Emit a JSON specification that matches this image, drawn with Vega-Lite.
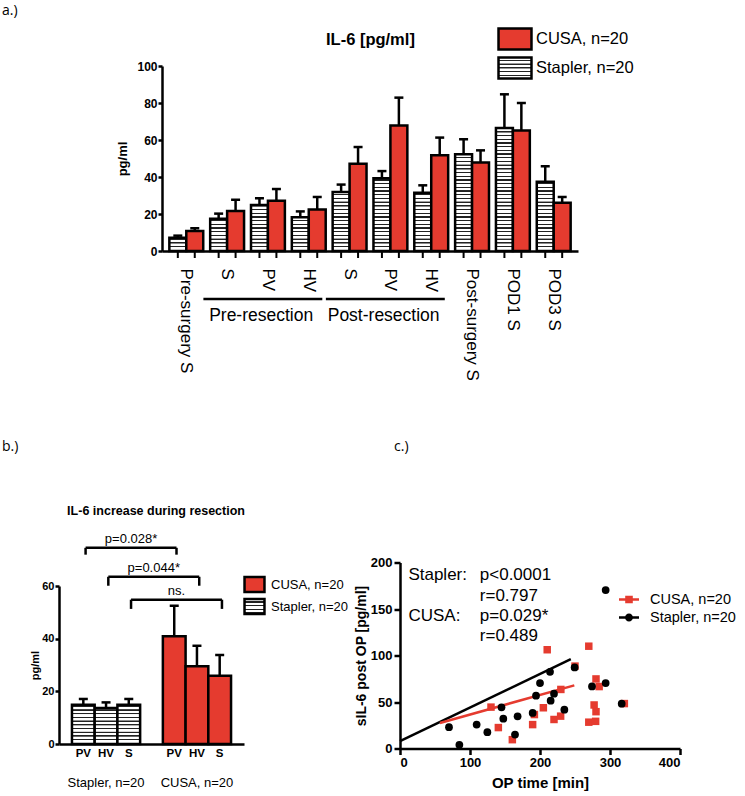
{
"$schema": "https://vega.github.io/schema/vega-lite/v6.json",
"background": "white",
"padding": {"left": 2, "top": 4, "right": 0, "bottom": 0},
"config": {
  "font": "Liberation Sans",
  "view": {"stroke": null},
  "axis": {"domainColor": "black", "domainWidth": 2.5, "tickColor": "black", "tickWidth": 2.5, "labelColor": "black", "titleColor": "black", "labelFontWeight": "bold", "titleFontWeight": "bold", "grid": false, "labelFont": "Liberation Sans", "titleFont": "Liberation Sans", "labelOverlap": false},
  "legend": {"labelColor": "black", "labelFont": "Liberation Sans"},
  "title": {"color": "black", "font": "Open Sans", "fontSize": 14, "fontWeight": "normal", "anchor": "start", "baseline": "bottom"}
},
"params": [{"name": "stripeStops", "value": [
{"offset":0,"color":"#fff"},{"offset":0.012,"color":"#fff"},{"offset":0.013,"color":"#222"},{"offset":0.019,"color":"#222"},
{"offset":0.02,"color":"#fff"},{"offset":0.032,"color":"#fff"},{"offset":0.033,"color":"#222"},{"offset":0.039,"color":"#222"},
{"offset":0.04,"color":"#fff"},{"offset":0.052,"color":"#fff"},{"offset":0.053,"color":"#222"},{"offset":0.059,"color":"#222"},
{"offset":0.06,"color":"#fff"},{"offset":0.072,"color":"#fff"},{"offset":0.073,"color":"#222"},{"offset":0.079,"color":"#222"},
{"offset":0.08,"color":"#fff"},{"offset":0.092,"color":"#fff"},{"offset":0.093,"color":"#222"},{"offset":0.099,"color":"#222"},
{"offset":0.1,"color":"#fff"},{"offset":0.112,"color":"#fff"},{"offset":0.113,"color":"#222"},{"offset":0.119,"color":"#222"},
{"offset":0.12,"color":"#fff"},{"offset":0.132,"color":"#fff"},{"offset":0.133,"color":"#222"},{"offset":0.139,"color":"#222"},
{"offset":0.14,"color":"#fff"},{"offset":0.152,"color":"#fff"},{"offset":0.153,"color":"#222"},{"offset":0.159,"color":"#222"},
{"offset":0.16,"color":"#fff"},{"offset":0.172,"color":"#fff"},{"offset":0.173,"color":"#222"},{"offset":0.179,"color":"#222"},
{"offset":0.18,"color":"#fff"},{"offset":0.192,"color":"#fff"},{"offset":0.193,"color":"#222"},{"offset":0.199,"color":"#222"},
{"offset":0.2,"color":"#fff"},{"offset":0.212,"color":"#fff"},{"offset":0.213,"color":"#222"},{"offset":0.219,"color":"#222"},
{"offset":0.22,"color":"#fff"},{"offset":0.232,"color":"#fff"},{"offset":0.233,"color":"#222"},{"offset":0.239,"color":"#222"},
{"offset":0.24,"color":"#fff"},{"offset":0.252,"color":"#fff"},{"offset":0.253,"color":"#222"},{"offset":0.259,"color":"#222"},
{"offset":0.26,"color":"#fff"},{"offset":0.272,"color":"#fff"},{"offset":0.273,"color":"#222"},{"offset":0.279,"color":"#222"},
{"offset":0.28,"color":"#fff"},{"offset":0.292,"color":"#fff"},{"offset":0.293,"color":"#222"},{"offset":0.299,"color":"#222"},
{"offset":0.3,"color":"#fff"},{"offset":0.312,"color":"#fff"},{"offset":0.313,"color":"#222"},{"offset":0.319,"color":"#222"},
{"offset":0.32,"color":"#fff"},{"offset":0.332,"color":"#fff"},{"offset":0.333,"color":"#222"},{"offset":0.339,"color":"#222"},
{"offset":0.34,"color":"#fff"},{"offset":0.352,"color":"#fff"},{"offset":0.353,"color":"#222"},{"offset":0.359,"color":"#222"},
{"offset":0.36,"color":"#fff"},{"offset":0.372,"color":"#fff"},{"offset":0.373,"color":"#222"},{"offset":0.379,"color":"#222"},
{"offset":0.38,"color":"#fff"},{"offset":0.392,"color":"#fff"},{"offset":0.393,"color":"#222"},{"offset":0.399,"color":"#222"},
{"offset":0.4,"color":"#fff"},{"offset":0.412,"color":"#fff"},{"offset":0.413,"color":"#222"},{"offset":0.419,"color":"#222"},
{"offset":0.42,"color":"#fff"},{"offset":0.432,"color":"#fff"},{"offset":0.433,"color":"#222"},{"offset":0.439,"color":"#222"},
{"offset":0.44,"color":"#fff"},{"offset":0.452,"color":"#fff"},{"offset":0.453,"color":"#222"},{"offset":0.459,"color":"#222"},
{"offset":0.46,"color":"#fff"},{"offset":0.472,"color":"#fff"},{"offset":0.473,"color":"#222"},{"offset":0.479,"color":"#222"},
{"offset":0.48,"color":"#fff"},{"offset":0.492,"color":"#fff"},{"offset":0.493,"color":"#222"},{"offset":0.499,"color":"#222"},
{"offset":0.5,"color":"#fff"},{"offset":0.512,"color":"#fff"},{"offset":0.513,"color":"#222"},{"offset":0.519,"color":"#222"},
{"offset":0.52,"color":"#fff"},{"offset":0.532,"color":"#fff"},{"offset":0.533,"color":"#222"},{"offset":0.539,"color":"#222"},
{"offset":0.54,"color":"#fff"},{"offset":0.552,"color":"#fff"},{"offset":0.553,"color":"#222"},{"offset":0.559,"color":"#222"},
{"offset":0.56,"color":"#fff"},{"offset":0.572,"color":"#fff"},{"offset":0.573,"color":"#222"},{"offset":0.579,"color":"#222"},
{"offset":0.58,"color":"#fff"},{"offset":0.592,"color":"#fff"},{"offset":0.593,"color":"#222"},{"offset":0.599,"color":"#222"},
{"offset":0.6,"color":"#fff"},{"offset":0.612,"color":"#fff"},{"offset":0.613,"color":"#222"},{"offset":0.619,"color":"#222"},
{"offset":0.62,"color":"#fff"},{"offset":0.632,"color":"#fff"},{"offset":0.633,"color":"#222"},{"offset":0.639,"color":"#222"},
{"offset":0.64,"color":"#fff"},{"offset":0.652,"color":"#fff"},{"offset":0.653,"color":"#222"},{"offset":0.659,"color":"#222"},
{"offset":0.66,"color":"#fff"},{"offset":0.672,"color":"#fff"},{"offset":0.673,"color":"#222"},{"offset":0.679,"color":"#222"},
{"offset":0.68,"color":"#fff"},{"offset":0.692,"color":"#fff"},{"offset":0.693,"color":"#222"},{"offset":0.699,"color":"#222"},
{"offset":0.7,"color":"#fff"},{"offset":0.712,"color":"#fff"},{"offset":0.713,"color":"#222"},{"offset":0.719,"color":"#222"},
{"offset":0.72,"color":"#fff"},{"offset":0.732,"color":"#fff"},{"offset":0.733,"color":"#222"},{"offset":0.739,"color":"#222"},
{"offset":0.74,"color":"#fff"},{"offset":0.752,"color":"#fff"},{"offset":0.753,"color":"#222"},{"offset":0.759,"color":"#222"},
{"offset":0.76,"color":"#fff"},{"offset":0.772,"color":"#fff"},{"offset":0.773,"color":"#222"},{"offset":0.779,"color":"#222"},
{"offset":0.78,"color":"#fff"},{"offset":0.792,"color":"#fff"},{"offset":0.793,"color":"#222"},{"offset":0.799,"color":"#222"},
{"offset":0.8,"color":"#fff"},{"offset":0.812,"color":"#fff"},{"offset":0.813,"color":"#222"},{"offset":0.819,"color":"#222"},
{"offset":0.82,"color":"#fff"},{"offset":0.832,"color":"#fff"},{"offset":0.833,"color":"#222"},{"offset":0.839,"color":"#222"},
{"offset":0.84,"color":"#fff"},{"offset":0.852,"color":"#fff"},{"offset":0.853,"color":"#222"},{"offset":0.859,"color":"#222"},
{"offset":0.86,"color":"#fff"},{"offset":0.872,"color":"#fff"},{"offset":0.873,"color":"#222"},{"offset":0.879,"color":"#222"},
{"offset":0.88,"color":"#fff"},{"offset":0.892,"color":"#fff"},{"offset":0.893,"color":"#222"},{"offset":0.899,"color":"#222"},
{"offset":0.9,"color":"#fff"},{"offset":0.912,"color":"#fff"},{"offset":0.913,"color":"#222"},{"offset":0.919,"color":"#222"},
{"offset":0.92,"color":"#fff"},{"offset":0.932,"color":"#fff"},{"offset":0.933,"color":"#222"},{"offset":0.939,"color":"#222"},
{"offset":0.94,"color":"#fff"},{"offset":0.952,"color":"#fff"},{"offset":0.953,"color":"#222"},{"offset":0.959,"color":"#222"},
{"offset":0.96,"color":"#fff"},{"offset":0.972,"color":"#fff"},{"offset":0.973,"color":"#222"},{"offset":0.979,"color":"#222"},
{"offset":0.98,"color":"#fff"},{"offset":0.992,"color":"#fff"},{"offset":0.993,"color":"#222"},{"offset":0.999,"color":"#222"}
]}],
"resolve": {"scale": {"fill": "independent", "stroke": "independent", "shape": "independent"}, "legend": {"fill": "independent", "stroke": "independent", "shape": "independent"}},
"spacing": 59,
"vconcat": [
{
  "spacing": 56,
  "resolve": {"scale": {"fill": "independent", "stroke": "independent", "shape": "independent"}, "legend": {"fill": "independent", "stroke": "independent", "shape": "independent"}},
  "hconcat": [
  {
    "width": 1, "height": 1,
    "title": {"text": "a.)", "dx": -57, "offset": 48},
    "data": {"values": []},
    "mark": "point"
  },
  {
    "width": 416, "height": 185,
    "data": {"values": [
      {"cat": "Pre-surgery S", "group": "Stapler, n=20", "mean": 7.2, "upper": 8.3},
      {"cat": "S (pre)", "group": "Stapler, n=20", "mean": 17.5, "upper": 20.2},
      {"cat": "PV (pre)", "group": "Stapler, n=20", "mean": 24.9, "upper": 28.5},
      {"cat": "HV (pre)", "group": "Stapler, n=20", "mean": 18.2, "upper": 21.4},
      {"cat": "S (post)", "group": "Stapler, n=20", "mean": 31.9, "upper": 35.9},
      {"cat": "PV (post)", "group": "Stapler, n=20", "mean": 39.3, "upper": 43.2},
      {"cat": "HV (post)", "group": "Stapler, n=20", "mean": 31.5, "upper": 35.5},
      {"cat": "Post-surgery S", "group": "Stapler, n=20", "mean": 52.3, "upper": 60.4},
      {"cat": "POD1 S", "group": "Stapler, n=20", "mean": 66.5, "upper": 84.7},
      {"cat": "POD3 S", "group": "Stapler, n=20", "mean": 37.5, "upper": 45.8},
      {"cat": "Pre-surgery S", "group": "CUSA, n=20", "mean": 10.8, "upper": 12.3},
      {"cat": "S (pre)", "group": "CUSA, n=20", "mean": 21.6, "upper": 27.7},
      {"cat": "PV (pre)", "group": "CUSA, n=20", "mean": 27.2, "upper": 33.5},
      {"cat": "HV (pre)", "group": "CUSA, n=20", "mean": 22.5, "upper": 29.2},
      {"cat": "S (post)", "group": "CUSA, n=20", "mean": 47.2, "upper": 56.2},
      {"cat": "PV (post)", "group": "CUSA, n=20", "mean": 67.9, "upper": 82.9},
      {"cat": "HV (post)", "group": "CUSA, n=20", "mean": 51.7, "upper": 61.3},
      {"cat": "Post-surgery S", "group": "CUSA, n=20", "mean": 47.9, "upper": 54.4},
      {"cat": "POD1 S", "group": "CUSA, n=20", "mean": 65.2, "upper": 80},
      {"cat": "POD3 S", "group": "CUSA, n=20", "mean": 26.1, "upper": 29.2}
    ]},
    "layer": [
      {
        "mark": {"type": "bar", "opacity": 0},
        "encoding": {
          "x": {"field": "cat", "type": "nominal",
            "scale": {"domain": ["Pre-surgery S", "S (pre)", "PV (pre)", "HV (pre)", "S (post)", "PV (post)", "HV (post)", "Post-surgery S", "POD1 S", "POD3 S"], "paddingInner": 0.17, "paddingOuter": 0.18},
            "axis": {"title": null, "labelAngle": 90, "labelFontSize": 17, "labelFontWeight": "normal", "ticks": false, "labelPadding": 17, "labelExpr": "replace(replace(datum.label, ' (pre)', ''), ' (post)', '')"}},
          "xOffset": {"field": "group", "type": "nominal", "scale": {"domain": ["Stapler, n=20", "CUSA, n=20"], "paddingInner": 0, "paddingOuter": 0}},
          "y": {"field": "mean", "type": "quantitative", "scale": {"domain": [0, 100]},
            "axis": {"title": "pg/ml", "values": [0, 20, 40, 60, 80, 100], "tickSize": 4, "labelPadding": 1, "titlePadding": 7, "labelFontSize": 12, "titleFontSize": 13, "labelOverlap": false}},
          "fill": {"field": "group", "type": "nominal",
            "scale": {"domain": ["CUSA, n=20", "Stapler, n=20"], "range": ["#e53b2f", {"expr": "{gradient: 'linear', x1: 1, x2: 1, y1: 0, y2: 8.8, stops: stripeStops}"}]},
            "legend": {"orient": "none", "legendX": 341, "legendY": -39, "title": null, "symbolType": "M-1.57,-1H1.57V1H-1.57Z", "symbolSize": 441, "symbolStrokeWidth": 2.5, "symbolStrokeColor": "black", "symbolOpacity": 1, "labelFontSize": 16.5, "labelOffset": 9, "rowPadding": -3}}
        }
      },
      {
        "mark": {"type": "bar", "strokeWidth": 2.5, "stroke": "black"},
        "encoding": {
          "x": {"field": "cat", "type": "nominal"},
          "xOffset": {"field": "group", "type": "nominal"},
          "y": {"field": "mean", "type": "quantitative",
            "axis": {"title": "pg/ml", "values": [0, 20, 40, 60, 80, 100], "tickSize": 4, "labelPadding": 1, "titlePadding": 7, "labelFontSize": 12, "titleFontSize": 13, "labelOverlap": false}},
          "fill": {"value": {"expr": "datum.group === 'CUSA, n=20' ? '#e53b2f' : {gradient: 'linear', x1: 1, x2: 1, y1: 1 - 100 / datum.mean, y2: 1, stops: stripeStops}"}}
        }
      },
      {
        "mark": {"type": "rule", "strokeWidth": 2.5, "color": "black"},
        "encoding": {
          "x": {"field": "cat", "type": "nominal"},
          "xOffset": {"field": "group", "type": "nominal"},
          "y": {"field": "mean", "type": "quantitative",
            "axis": {"title": "pg/ml", "values": [0, 20, 40, 60, 80, 100], "tickSize": 4, "labelPadding": 1, "titlePadding": 7, "labelFontSize": 12, "titleFontSize": 13, "labelOverlap": false}},
          "y2": {"field": "upper"}
        }
      },
      {
        "mark": {"type": "tick", "thickness": 2.5, "size": 9, "color": "black", "opacity": 1, "orient": "horizontal"},
        "encoding": {
          "x": {"field": "cat", "type": "nominal"},
          "xOffset": {"field": "group", "type": "nominal"},
          "y": {"field": "upper", "type": "quantitative",
            "axis": {"title": "pg/ml", "values": [0, 20, 40, 60, 80, 100], "tickSize": 4, "labelPadding": 1, "titlePadding": 7, "labelFontSize": 12, "titleFontSize": 13, "labelOverlap": false}}
        }
      },
      {
        "mark": {"type": "rule", "strokeWidth": 2, "color": "black"},
        "encoding": {
          "x": {"field": "cat", "type": "nominal"},
          "xOffset": {"field": "group", "type": "nominal"},
          "y": {"datum": 0, "type": "quantitative",
            "axis": {"title": "pg/ml", "values": [0, 20, 40, 60, 80, 100], "tickSize": 4, "labelPadding": 1, "titlePadding": 7, "labelFontSize": 12, "titleFontSize": 13, "labelOverlap": false}},
          "y2": {"datum": -3.8}
        }
      },
      {
        "data": {"values": [{"t": "IL-6 [pg/ml]"}]},
        "mark": {"type": "text", "fontSize": 16.5, "fontWeight": "bold", "baseline": "middle", "align": "center", "color": "black"},
        "encoding": {
          "x": {"datum": "PV (post)", "type": "nominal", "bandPosition": -0.09},
          "y": {"datum": 114, "type": "quantitative",
            "axis": {"title": "pg/ml", "values": [0, 20, 40, 60, 80, 100], "tickSize": 4, "labelPadding": 1, "titlePadding": 7, "labelFontSize": 12, "titleFontSize": 13, "labelOverlap": false}},
          "text": {"field": "t"}
        }
      },
      {
        "data": {"values": [
          {"from": "S (pre)", "to": "HV (pre)", "mid": "PV (pre)", "label": "Pre-resection"},
          {"from": "S (post)", "to": "HV (post)", "mid": "PV (post)", "label": "Post-resection"}
        ]},
        "layer": [
          {
            "mark": {"type": "rule", "strokeWidth": 2.5, "color": "black"},
            "encoding": {
              "x": {"field": "from", "type": "nominal", "bandPosition": -0.2},
              "x2": {"field": "to", "bandPosition": 0.9},
              "y": {"datum": -26, "type": "quantitative",
                "axis": {"title": "pg/ml", "values": [0, 20, 40, 60, 80, 100], "tickSize": 4, "labelPadding": 1, "titlePadding": 7, "labelFontSize": 12, "titleFontSize": 13, "labelOverlap": false}}
            }
          },
          {
            "mark": {"type": "text", "fontSize": 17.5, "baseline": "middle", "color": "black"},
            "encoding": {
              "x": {"field": "mid", "type": "nominal", "bandPosition": 0.3},
              "y": {"datum": -35, "type": "quantitative",
                "axis": {"title": "pg/ml", "values": [0, 20, 40, 60, 80, 100], "tickSize": 4, "labelPadding": 1, "titlePadding": 7, "labelFontSize": 12, "titleFontSize": 13, "labelOverlap": false}},
              "text": {"field": "label"}
            }
          }
        ]
      }
    ]
  }
  ]
},
{
  "spacing": 5,
  "resolve": {"scale": {"fill": "independent", "stroke": "independent", "shape": "independent"}, "legend": {"fill": "independent", "stroke": "independent", "shape": "independent"}},
  "hconcat": [
  {
    "spacing": 48,
    "resolve": {"scale": {"fill": "independent", "stroke": "independent", "shape": "independent"}, "legend": {"fill": "independent", "stroke": "independent", "shape": "independent"}},
    "vconcat": [
    {
      "width": 1, "height": 1,
      "title": {"text": "b.)", "dx": -57, "offset": 2},
      "data": {"values": []},
      "mark": "point"
    },
    {
      "width": 185, "height": 158,
      "data": {"values": [
        {"cat": "Stapler PV", "group": "Stapler, n=20", "mean": 14.9, "upper": 17.1},
        {"cat": "Stapler HV", "group": "Stapler, n=20", "mean": 13.7, "upper": 15.8},
        {"cat": "Stapler S", "group": "Stapler, n=20", "mean": 14.9, "upper": 17.1},
        {"cat": "CUSA PV", "group": "CUSA, n=20", "mean": 40.9, "upper": 52.5},
        {"cat": "CUSA HV", "group": "CUSA, n=20", "mean": 29.5, "upper": 37.3},
        {"cat": "CUSA S", "group": "CUSA, n=20", "mean": 25.9, "upper": 33.8}
      ]},
      "layer": [
        {
          "mark": {"type": "bar", "opacity": 0},
          "encoding": {
            "x": {"field": "cat", "type": "nominal",
              "scale": {"domain": ["Stapler PV", "Stapler HV", "Stapler S", "gap", "CUSA PV", "CUSA HV", "CUSA S"], "paddingInner": 0, "paddingOuter": 0.57},
              "axis": {"title": null, "labelAngle": 0, "labelFontSize": 11.5, "ticks": false, "labelPadding": 3, "labelExpr": "datum.label === 'gap' ? '' : split(datum.label, ' ')[1]"}},
            "y": {"field": "mean", "type": "quantitative", "scale": {"domain": [0, 60]},
              "axis": {"title": "pg/ml", "values": [0, 20, 40, 60], "tickSize": 4, "labelPadding": 1, "titlePadding": 1, "labelFontSize": 11, "titleFontSize": 11}},
            "fill": {"field": "group", "type": "nominal",
              "scale": {"domain": ["CUSA, n=20", "Stapler, n=20"], "range": ["#e53b2f", {"expr": "{gradient: 'linear', x1: 1, x2: 1, y1: 0, y2: 12.3, stops: stripeStops}"}]},
              "legend": {"orient": "none", "legendX": 186.5, "legendY": -10.5, "title": null, "symbolType": "M-1.33,-1H1.33V1H-1.33Z", "symbolSize": 225, "symbolStrokeWidth": 2.5, "symbolStrokeColor": "black", "symbolOpacity": 1, "labelFontSize": 13, "labelOffset": 7.5, "rowPadding": -4}}
          }
        },
        {
          "mark": {"type": "bar", "strokeWidth": 2.5, "stroke": "black"},
          "encoding": {
            "x": {"field": "cat", "type": "nominal"},
            "y": {"field": "mean", "type": "quantitative"},
            "fill": {"value": {"expr": "datum.group === 'CUSA, n=20' ? '#e53b2f' : {gradient: 'linear', x1: 1, x2: 1, y1: 1 - 70 / datum.mean, y2: 1, stops: stripeStops}"}}
          }
        },
        {
          "mark": {"type": "rule", "strokeWidth": 2.5, "color": "black"},
          "encoding": {
            "x": {"field": "cat", "type": "nominal"},
            "y": {"field": "mean", "type": "quantitative"},
            "y2": {"field": "upper"}
          }
        },
        {
          "mark": {"type": "tick", "thickness": 2.5, "size": 9, "color": "black", "opacity": 1, "orient": "horizontal"},
          "encoding": {
            "x": {"field": "cat", "type": "nominal"},
            "y": {"field": "upper", "type": "quantitative"}
          }
        },
        {
          "data": {"values": [{"t": "IL-6 increase during resection"}]},
          "mark": {"type": "text", "fontSize": 12.5, "fontWeight": "bold", "baseline": "middle", "align": "center", "color": "black"},
          "encoding": {
            "x": {"datum": "gap", "type": "nominal", "bandPosition": 0.7},
            "y": {"datum": 88.3, "type": "quantitative"},
            "text": {"field": "t"}
          }
        },
        {
          "data": {"values": [
            {"cat": "Stapler HV", "label": "Stapler, n=20"},
            {"cat": "CUSA HV", "label": "CUSA, n=20"}
          ]},
          "mark": {"type": "text", "fontSize": 13, "baseline": "middle", "dy": 39, "color": "black"},
          "encoding": {
            "x": {"field": "cat", "type": "nominal"},
            "y": {"datum": 0, "type": "quantitative"},
            "text": {"field": "label"}
          }
        },
        {
          "data": {"values": [
            {"a": "Stapler PV", "b": "CUSA PV", "mid": "Stapler S", "level": 74.5, "low": 71.9, "label": "p=0.028*"},
            {"a": "Stapler HV", "b": "CUSA HV", "mid": "gap", "level": 63.5, "low": 60.1, "label": "p=0.044*"},
            {"a": "Stapler S", "b": "CUSA S", "mid": "CUSA PV", "level": 54.8, "low": 51.3, "label": "ns."}
          ]},
          "layer": [
            {
              "mark": {"type": "rule", "strokeWidth": 2.5, "color": "black"},
              "encoding": {
                "x": {"field": "a", "type": "nominal", "bandPosition": 0.6},
                "x2": {"field": "b", "bandPosition": 0.6},
                "y": {"field": "level", "type": "quantitative"}
              }
            },
            {
              "mark": {"type": "rule", "strokeWidth": 2.5, "color": "black"},
              "encoding": {
                "x": {"field": "a", "type": "nominal", "bandPosition": 0.6},
                "y": {"field": "level", "type": "quantitative"},
                "y2": {"field": "low"}
              }
            },
            {
              "mark": {"type": "rule", "strokeWidth": 2.5, "color": "black"},
              "encoding": {
                "x": {"field": "b", "type": "nominal", "bandPosition": 0.6},
                "y": {"field": "level", "type": "quantitative"},
                "y2": {"field": "low"}
              }
            },
            {
              "mark": {"type": "text", "fontSize": 13, "baseline": "bottom", "dy": -2, "color": "black"},
              "encoding": {
                "x": {"field": "mid", "type": "nominal", "bandPosition": 0.6},
                "y": {"field": "level", "type": "quantitative"},
                "text": {"field": "label"}
              }
            }
          ]
        }
      ]
    }
    ]
  },
  {
    "spacing": 99.5,
    "resolve": {"scale": {"fill": "independent", "stroke": "independent", "shape": "independent"}, "legend": {"fill": "independent", "stroke": "independent", "shape": "independent"}},
    "vconcat": [
    {
      "width": 1, "height": 1,
      "title": {"text": "c.)", "dx": -6, "offset": 2},
      "data": {"values": []},
      "mark": "point"
    },
    {
      "width": 280, "height": 186,
      "layer": [
        {
          "data": {"values": [
            {"group": "Stapler, n=20", "t0": 0, "v0": 7.9, "t1": 244, "v1": 96}
          ]},
          "mark": {"type": "rule", "strokeWidth": 2.5, "color": "black"},
          "encoding": {
            "x": {"field": "t0", "type": "quantitative", "scale": {"domain": [0, 400], "nice": false},
              "axis": {"title": "OP time [min]", "values": [0, 100, 200, 300, 400], "tickSize": 6, "labelPadding": 2, "labelFontSize": 13, "titleFontSize": 15, "titlePadding": 6}},
            "x2": {"field": "t1"},
            "y": {"field": "v0", "type": "quantitative", "scale": {"domain": [0, 200], "nice": false},
              "axis": {"title": "sIL-6 post OP [pg/ml]", "values": [0, 50, 100, 150, 200], "tickSize": 6, "labelPadding": 2, "labelFontSize": 13, "titleFontSize": 14, "titlePadding": 2}},
            "y2": {"field": "v1"}
          }
        },
        {
          "data": {"values": [
            {"group": "CUSA, n=20", "t0": 57, "v0": 27.5, "t1": 249, "v1": 67.9}
          ]},
          "mark": {"type": "rule", "strokeWidth": 2.5, "color": "#e53b2f"},
          "encoding": {
            "x": {"field": "t0", "type": "quantitative"},
            "x2": {"field": "t1"},
            "y": {"field": "v0", "type": "quantitative"},
            "y2": {"field": "v1"}
          }
        },
        {
          "data": {"values": [
            {"group": "CUSA, n=20", "time": 130, "il6": 44.5},
            {"group": "Stapler, n=20", "time": 70, "il6": 22.9}
          ]},
          "mark": {"type": "point", "filled": true, "opacity": 0},
          "encoding": {
            "x": {"field": "time", "type": "quantitative"},
            "y": {"field": "il6", "type": "quantitative"},
            "fill": {"field": "group", "type": "nominal", "scale": {"domain": ["CUSA, n=20", "Stapler, n=20"], "range": ["#e53b2f", "black"]},
              "legend": {"orient": "none", "legendX": 219, "legendY": 27, "title": null, "symbolSize": 400, "symbolOpacity": 1, "symbolStrokeWidth": 0, "labelFontSize": 14.5, "labelOffset": 11, "rowPadding": 1}},
            "shape": {"field": "group", "type": "nominal", "scale": {"domain": ["CUSA, n=20", "Stapler, n=20"], "range": ["M-1,-0.12H1V0.12H-1Z M-0.38,-0.38H0.38V0.38H-0.38Z", "M-1,-0.12H1V0.12H-1Z M-0.4,0A0.4,0.4 0 1,1 0.4,0A0.4,0.4 0 1,1 -0.4,0Z"]},
              "legend": {"orient": "none", "legendX": 219, "legendY": 27, "title": null, "symbolSize": 400, "symbolOpacity": 1, "symbolStrokeWidth": 0, "labelFontSize": 14.5, "labelOffset": 11, "rowPadding": 1}}
          }
        },
        {
          "data": {"values": [
            {"time": 130, "il6": 44.5},
            {"time": 140.5, "il6": 22.5},
            {"time": 160.5, "il6": 9.5},
            {"time": 189.5, "il6": 25.7},
            {"time": 192, "il6": 36.5},
            {"time": 204.8, "il6": 43.8},
            {"time": 210.3, "il6": 106.2},
            {"time": 220, "il6": 31.2},
            {"time": 229.5, "il6": 34.8},
            {"time": 229.8, "il6": 63.5},
            {"time": 250, "il6": 88.6},
            {"time": 269.7, "il6": 110},
            {"time": 269.7, "il6": 28.3},
            {"time": 280, "il6": 74.8},
            {"time": 284.5, "il6": 66.6},
            {"time": 277.3, "il6": 46.8},
            {"time": 280, "il6": 39.6},
            {"time": 279.5, "il6": 29.2},
            {"time": 320.5, "il6": 48.3}
          ]},
          "mark": {"type": "point", "shape": "square", "filled": true, "size": 56, "opacity": 1, "color": "#e53b2f"},
          "encoding": {
            "x": {"field": "time", "type": "quantitative"},
            "y": {"field": "il6", "type": "quantitative"}
          }
        },
        {
          "data": {"values": [
            {"time": 70, "il6": 22.9},
            {"time": 84.8, "il6": 3.9},
            {"time": 109.5, "il6": 25.7},
            {"time": 124.8, "il6": 17.5},
            {"time": 145, "il6": 44.3},
            {"time": 147.6, "il6": 32.1},
            {"time": 164.3, "il6": 15},
            {"time": 168, "il6": 34.6},
            {"time": 189.5, "il6": 38.2},
            {"time": 194.3, "il6": 56.8},
            {"time": 200, "il6": 70.4},
            {"time": 214.3, "il6": 82.5},
            {"time": 215.2, "il6": 51.4},
            {"time": 220, "il6": 58.9},
            {"time": 234.8, "il6": 41.8},
            {"time": 249.5, "il6": 87.1},
            {"time": 274.3, "il6": 66.8},
            {"time": 293.8, "il6": 70.4},
            {"time": 293.8, "il6": 170.4},
            {"time": 316.7, "il6": 48.2}
          ]},
          "mark": {"type": "point", "shape": "circle", "filled": true, "size": 60, "opacity": 1, "color": "black"},
          "encoding": {
            "x": {"field": "time", "type": "quantitative"},
            "y": {"field": "il6", "type": "quantitative"}
          }
        },
        {
          "data": {"values": [
            {"t": "Stapler:", "time": 12, "il6": 187},
            {"t": "p<0.0001", "time": 114, "il6": 187},
            {"t": "r=0.797", "time": 114, "il6": 164.5},
            {"t": "CUSA:", "time": 12, "il6": 143},
            {"t": "p=0.029*", "time": 114, "il6": 143},
            {"t": "r=0.489", "time": 114, "il6": 120.5}
          ]},
          "mark": {"type": "text", "fontSize": 17, "align": "left", "baseline": "middle", "color": "black"},
          "encoding": {
            "x": {"field": "time", "type": "quantitative"},
            "y": {"field": "il6", "type": "quantitative"},
            "text": {"field": "t"}
          }
        }
      ]
    }
    ]
  }
  ]
}
]
}
